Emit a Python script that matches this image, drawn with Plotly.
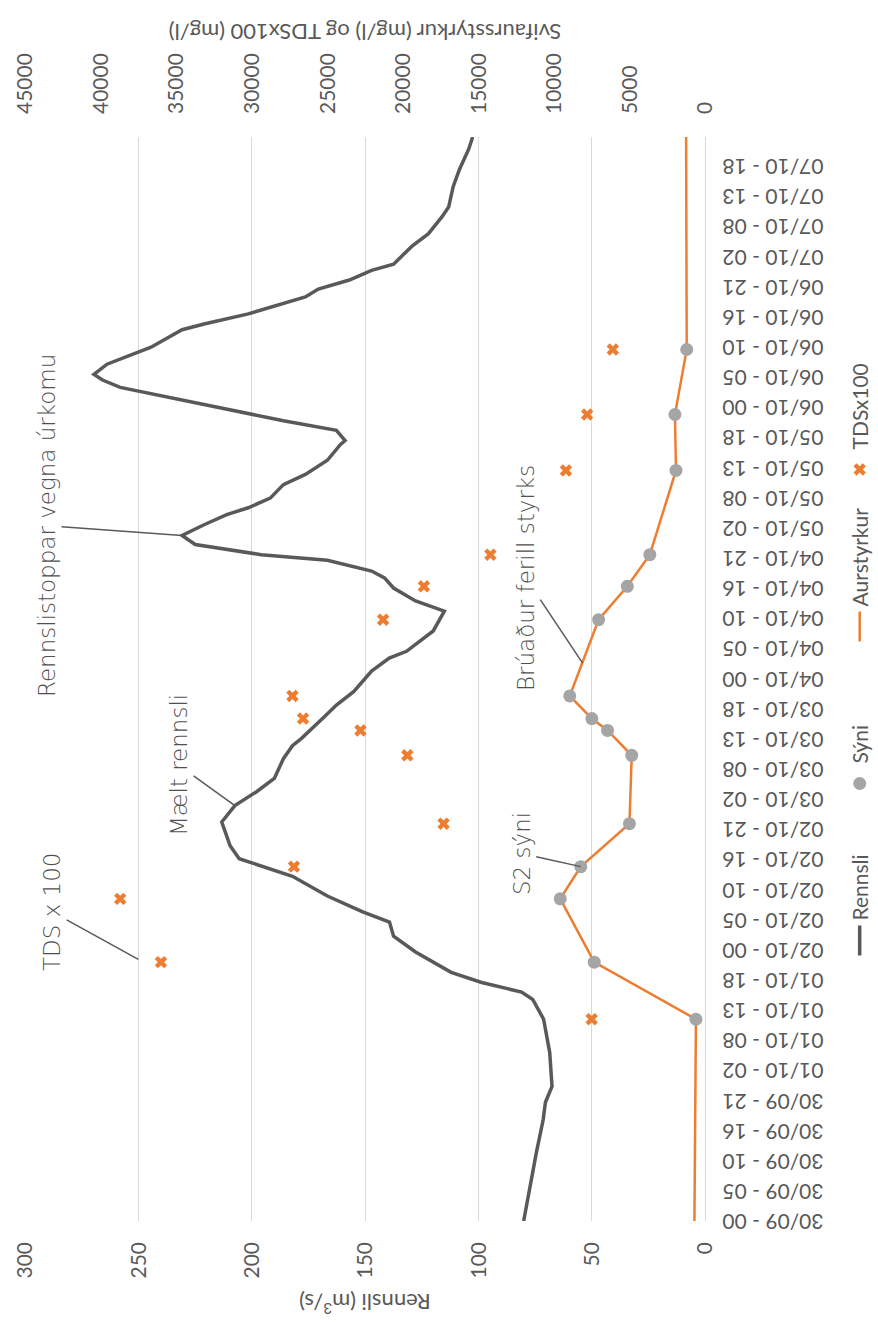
import pandas as pd
import plotly.graph_objects as go

# Time axis origin (hours below are counted from this moment)
start = pd.Timestamp("2016-09-30 00:00")
end_hours = 191.8

# Measured discharge, Rennsli (m3/s)
flow_hours = [0, 6.0, 12.1, 17.9, 21.0, 23.8, 29.8, 35.7, 39.2, 40.5, 42.2, 44.0,
              47.6, 50.4, 52.9, 54.7, 57.5, 61.0, 64.1, 66.4, 70.6, 73.5, 76.0,
              78.3, 81.8, 84.1, 85.4, 89.0, 91.3, 93.7, 97.3, 99.6, 100.8, 104.4,
              107.9, 109.7, 112.0, 113.8, 115.0, 116.9, 117.9, 119.7, 121.3, 123.2,
              125.0, 126.2, 127.9, 130.3, 132.1, 134.6, 137.4, 138.1, 139.9, 141.6,
              144.0, 146.3, 147.5, 148.8, 149.8, 151.6, 152.8, 154.6, 157.7, 158.7,
              160.5, 162.3, 163.5, 164.9, 166.5, 168.2, 169.3, 172.4, 174.7, 177.7,
              179.4, 183.0, 186.1, 189.6, 191.8]
flow_m3s = [80.0, 77.3, 74.4, 71.4, 70.4, 67.5, 68.5, 71.2, 76.0, 80.9, 98.5, 112.0,
            127.7, 137.4, 139.2, 151.0, 166.6, 182.0, 205.5, 209.5, 213.2, 207.4, 197.7,
            190.0, 186.0, 182.0, 178.0, 168.5, 162.6, 154.9, 147.1, 139.3, 131.7, 119.9,
            115.0, 127.7, 137.4, 141.4, 147.1, 166.6, 195.8, 224.9, 230.7, 221.0,
            211.0, 201.5, 191.8, 186.0, 176.3, 166.6, 160.8, 158.8, 162.6, 186.0,
            215.2, 244.4, 258.0, 265.8, 269.6, 263.8, 256.0, 244.4, 230.7, 221.0,
            201.5, 186.0, 176.3, 170.6, 156.9, 147.1, 137.4, 129.5, 122.0, 116.0,
            113.1, 111.1, 108.3, 104.3, 102.5]

# Water samples (S2): suspended sediment and TDS x 100 (mg/l)
sample_hours = [35.7, 45.8, 57.0, 62.7, 70.3, 82.4, 86.8, 88.9, 92.9, 106.4,
                112.3, 117.9, 132.8, 142.7, 154.2]
sediment_mgl = [600, 7330, 9580, 8220, 5000, 4850, 6450, 7490, 8950, 7040,
                5140, 3650, 1920, 1990, 1210]
tds_x100_mgl = [7500, 36000, 38700, 27200, 17300, 19700, 22800, 26600, 27300,
                21300, 18600, 14200, 9200, 7800, 6100]

# Concentration carried flat before the first and after the last sample
sediment_before = 700
sediment_after = 1250

GREY = "#595959"
ORANGE = "#ed7d31"
DOT = "#a5a5a5"
GRID = "#d9d9d9"
FONT = "Lato"
HAND = "DejaVu Sans"


def when(hours):
    return start + pd.to_timedelta(hours, unit="h")


def stamp(hours):
    return str(when(hours))


flow_t = when(flow_hours)
sample_t = when(sample_hours)
curve_t = when([0] + sample_hours + [end_hours])
curve_v = [sediment_before] + sediment_mgl + [sediment_after]

fig = go.Figure()
fig.add_trace(go.Scatter(x=flow_t, y=flow_m3s, name="Rennsli", mode="lines",
                         line=dict(color=GREY, width=3.5), legendrank=1))
fig.add_trace(go.Scatter(x=curve_t, y=curve_v, name="Aurstyrkur", mode="lines",
                         yaxis="y2", line=dict(color=ORANGE, width=2.5),
                         legendrank=3))
fig.add_trace(go.Scatter(x=sample_t, y=sediment_mgl, name="Sýni", mode="markers",
                         yaxis="y2", marker=dict(color=DOT, size=13),
                         legendrank=2))
fig.add_trace(go.Scatter(x=sample_t, y=tds_x100_mgl, name="TDSx100", mode="markers",
                         yaxis="y2",
                         marker=dict(color=ORANGE, size=11, symbol="x"),
                         legendrank=4))

# Hand-written style callouts: text, pointed-at position, text position
notes = [
    ("Rennslistoppar vegna úrkomu", 121.3, 230.7, 123.0, 290.3, "y"),
    ("Mælt rennsli", 73.5, 207.4, 80.6, 232.0, "y"),
    ("S2 sýni", 62.7, 8220, 65.0, 12130, "y2"),
    ("Brúaður ferill styrks", 98.7, 8100, 113.8, 11860, "y2"),
    ("TDS x 100", 46.3, 37500, 54.7, 43200, "y2"),
]
for text, px, py, tx, ty, ref in notes:
    fig.add_annotation(text=text, x=stamp(px), y=py, ax=stamp(tx), ay=ty,
                       xref="x", yref=ref, axref="x", ayref=ref,
                       showarrow=True, arrowhead=0, arrowwidth=1.5,
                       arrowcolor=GREY, standoff=0,
                       font=dict(family=HAND, size=23, color="#505050",
                                 weight=200))

fig.update_layout(
    width=1323, height=878,
    margin=dict(l=102, r=137, t=25, b=173, autoexpand=False),
    paper_bgcolor="white", plot_bgcolor="white",
    font=dict(family=FONT, size=21, color=GREY),
    showlegend=True,
    legend=dict(orientation="h", x=0.53, xanchor="center", y=-0.228,
                yanchor="middle", font=dict(size=21, color=GREY),
                entrywidth=112, entrywidthmode="pixels",
                bgcolor="rgba(0,0,0,0)"),
    xaxis=dict(type="date", range=[stamp(0), stamp(end_hours)],
               tick0=stamp(0), dtick=19200000, tickformat="%d/%m - %H",
               tickangle=-90, showgrid=False, zeroline=False,
               showline=True, linecolor=GRID, linewidth=1,
               ticks="", ticklabelstandoff=8, automargin=False,
               tickfont=dict(size=21, color=GREY)),
    yaxis=dict(range=[0, 300], dtick=50, showgrid=True, gridcolor=GRID,
               gridwidth=1, zeroline=False, showline=False, ticks="",
               ticklabelstandoff=20, automargin=False,
               title=dict(text="Rennsli (m<sup>3</sup>/s)", standoff=8,
                          font=dict(size=22, color=GREY)),
               tickfont=dict(size=21, color=GREY)),
    yaxis2=dict(range=[0, 45000], dtick=5000, tickformat="d",
                overlaying="y", side="right", automargin=False,
                showgrid=False, zeroline=False, showline=False, ticks="",
                ticklabelstandoff=22,
                title=dict(text="Svifaursstyrkur (mg/l) og TDSx100 (mg/l)",
                           standoff=14, font=dict(size=22, color=GREY)),
                tickfont=dict(size=21, color=GREY)),
)

# Turn the page a quarter turn counter-clockwise so time runs upward
turn = """
var gd = document.getElementById('{plot_id}');
document.documentElement.style.margin = '0';
document.documentElement.style.overflow = 'hidden';
document.body.style.margin = '0';
document.body.style.overflow = 'hidden';
gd.style.position = 'absolute';
gd.style.left = '0px';
gd.style.top = '0px';
gd.style.transformOrigin = '0 0';
gd.style.transform = 'translate(0px, 1323px) rotate(-90deg)';
"""

fig.write_html("out.html", post_script=turn)
